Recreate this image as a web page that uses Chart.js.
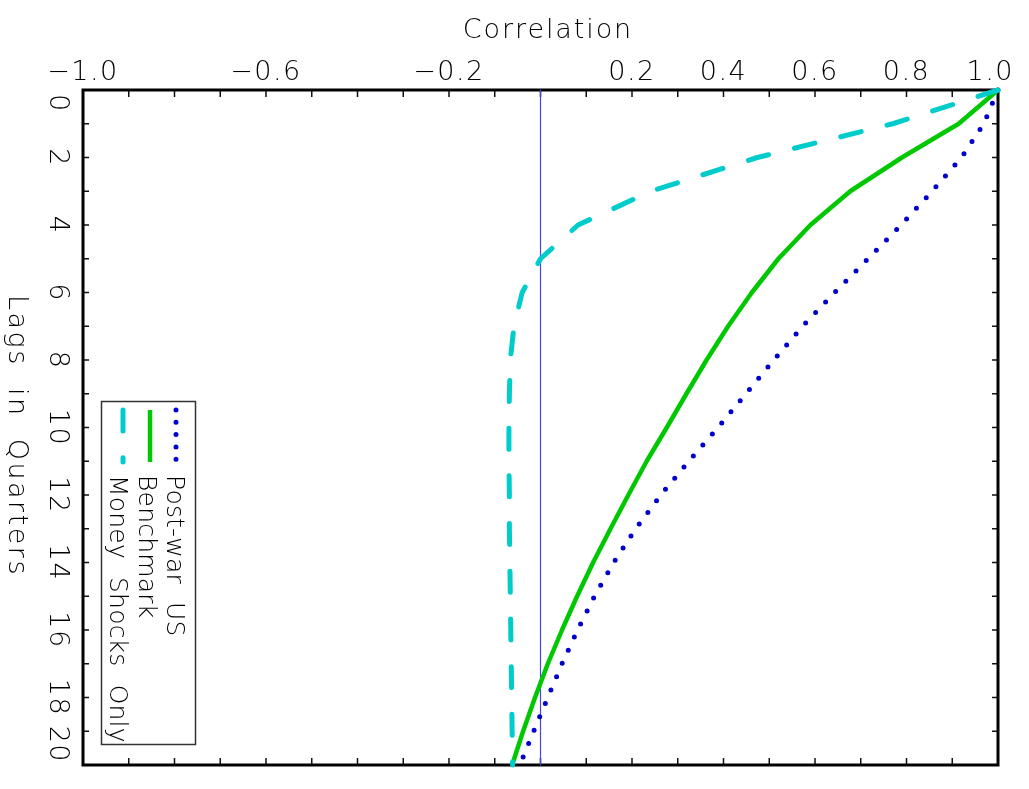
<!DOCTYPE html>
<html><head><meta charset="utf-8">
<script src="https://cdn.jsdelivr.net/npm/chart.js@4/dist/chart.umd.min.js"></script>
<style>html,body{margin:0;padding:0;background:#fff}#wrap{width:1029px;height:789px;position:relative}</style>
</head><body><div id="wrap"><canvas id="c"></canvas></div>
<script>
// ---- data ----
const lags = [0,1,2,3,4,5,6,7,8,9,10,11,12,13,14,15,16,17,18,19,20];
const postWarUS = [1.0,0.969,0.92,0.856,0.788,0.716,0.643,0.573,0.510,0.449,0.388,0.324,0.263,0.208,0.160,0.118,0.081,0.047,0.016,-0.015,-0.045];
const benchmark = [1.0,0.914,0.79,0.677,0.59,0.52,0.462,0.41,0.363,0.319,0.276,0.232,0.192,0.153,0.115,0.080,0.047,0.016,-0.012,-0.038,-0.062];
const moneyShocksOnly = [1.0,0.77,0.474,0.241,0.082,0.0,-0.04,-0.058,-0.066,-0.068,-0.069,-0.069,-0.068,-0.068,-0.067,-0.066,-0.065,-0.064,-0.063,-0.062,-0.061];
const zeroLineX = 0;
const corrTickValues = [-1.0,-0.6,-0.2,0.2,0.4,0.6,0.8,1.0];
const corrTickLabels = ['\u22121.0','\u22120.6','\u22120.2','0.2','0.4','0.6','0.8','1.0'];
const lagTickValues = [0,2,4,6,8,10,12,14,16,18,20];
const lagTickLabels = ['0','2','4','6','8','10','12','14','16','18','20'];
const seriesNames = ['Post-war US','Benchmark','Money Shocks Only'];
const xTitle = 'Correlation';
const yTitle = 'Lags in Quarters';

const toXY = vals => vals.map((v,i)=>({x:v, y:lags[i]}));
const FONT = '"DejaVu Sans", "Liberation Sans", sans-serif';
const TXT = '#000';

const styles = {
  post:  {borderColor:'#0000cd', borderWidth:5, borderDash:[0,14.5], borderCapStyle:'round'},
  bench: {borderColor:'#00c800', borderWidth:4.5, borderDash:[], borderCapStyle:'butt'},
  money: {borderColor:'#00cccc', borderWidth:5, borderDash:[21,26.7], borderCapStyle:'round'}
};

const datasets = [
  Object.assign({label:seriesNames[2], data:toXY(moneyShocksOnly)}, styles.money),
  Object.assign({label:seriesNames[1], data:toXY(benchmark)}, styles.bench),
  Object.assign({label:seriesNames[0], data:toXY(postWarUS)}, styles.post),
  {label:'zero', data:[{x:zeroLineX,y:lags[0]},{x:zeroLineX,y:lags[lags.length-1]}], borderColor:'rgb(70,70,225)', borderWidth:1.2}
].map(d=>Object.assign({showLine:true, pointRadius:0, fill:false, tension:0, borderJoinStyle:'round', clip:8}, d));

function spaced(ctx, px){ try{ ctx.letterSpacing = px + 'px'; }catch(e){} }
function wspaced(ctx, px){ try{ ctx.wordSpacing = px + 'px'; }catch(e){} }

const axesPlugin = {
  id:'axesPlugin',
  beforeDatasetsDraw(chart){
    const ctx = chart.ctx, a = chart.chartArea, xs = chart.scales.x, ys = chart.scales.y;
    ctx.save();
    ctx.strokeStyle = '#111'; ctx.lineWidth = 1.5;
    ctx.beginPath();
    for (let k = -9; k <= 9; k++) {
      const px = xs.getPixelForValue(k/10);
      ctx.moveTo(px, a.top); ctx.lineTo(px, a.top + 7);
      ctx.moveTo(px, a.bottom); ctx.lineTo(px, a.bottom - 7);
    }
    for (let l = 1; l < 20; l++) {
      const py = ys.getPixelForValue(l);
      ctx.moveTo(a.left, py); ctx.lineTo(a.left + 6, py);
      ctx.moveTo(a.right, py); ctx.lineTo(a.right - 6, py);
    }
    ctx.stroke();
    ctx.lineWidth = 3; ctx.strokeStyle = '#000';
    ctx.strokeRect(a.left, a.top, a.right - a.left, a.bottom - a.top);
    ctx.restore();
  },
  afterDraw(chart){
    const ctx = chart.ctx, a = chart.chartArea, xs = chart.scales.x, ys = chart.scales.y;
    ctx.save();
    ctx.fillStyle = TXT;
    // top tick labels
    ctx.font = '200 27px ' + FONT;
    spaced(ctx, 1.5);
    ctx.textAlign = 'center'; ctx.textBaseline = 'alphabetic';
    corrTickValues.forEach((v,i)=>{
      const lab = corrTickLabels[i];
      const w = ctx.measureText(lab).width;
      let cx = xs.getPixelForValue(v);
      cx = Math.min(cx, 1014 - w/2);
      ctx.fillText(lab, cx, 80);
    });
    // x title
    spaced(ctx, 1.9);
    ctx.fillText(xTitle, 548, 38);
    // y tick labels (rotated clockwise)
    spaced(ctx, 1.5);
    lagTickValues.forEach((v,i)=>{
      const lab = lagTickLabels[i];
      const w = ctx.measureText(lab).width;
      let cy = ys.getPixelForValue(v);
      cy = Math.max(a.top + w/2 + 4, Math.min(a.bottom - w/2 - 2, cy));
      ctx.save(); ctx.translate(50, cy); ctx.rotate(Math.PI/2);
      ctx.textAlign = 'center'; ctx.fillText(lab, 0, 0); ctx.restore();
    });
    // y title
    spaced(ctx, 2.5);
    wspaced(ctx, 10);
    ctx.save(); ctx.translate(9, 436); ctx.rotate(Math.PI/2);
    ctx.textAlign = 'center'; ctx.fillText(yTitle, 0, 0); ctx.restore();
    wspaced(ctx, 0);
    // legend box
    ctx.strokeStyle = '#333'; ctx.lineWidth = 1.5;
    ctx.strokeRect(101.5, 401.5, 94, 343);
    const entries = [
      {name:seriesNames[0], st:styles.post, lx:176, tx:167, dash:[0,12.3]},
      {name:seriesNames[1], st:styles.bench, lx:150, tx:139, dash:[]},
      {name:seriesNames[2], st:styles.money, lx:123, tx:110, dash:styles.money.borderDash}
    ];
    entries.forEach(e=>{
      ctx.save();
      ctx.strokeStyle = e.st.borderColor; ctx.lineWidth = e.st.borderWidth;
      ctx.lineCap = e.st.borderCapStyle; ctx.setLineDash(e.dash);
      ctx.beginPath(); ctx.moveTo(e.lx, 410); ctx.lineTo(e.lx, 462); ctx.stroke();
      ctx.restore();
      ctx.save(); ctx.font = '200 25px ' + FONT; spaced(ctx, 0.2); wspaced(ctx, 10); ctx.fillStyle = TXT;
      ctx.translate(e.tx, 475); ctx.rotate(Math.PI/2);
      ctx.textAlign = 'left'; ctx.textBaseline = 'alphabetic';
      ctx.fillText(e.name, 0, 0); ctx.restore();
    });
    ctx.restore();
  }
};

new Chart(document.getElementById('c'), {
  type:'scatter',
  data:{datasets},
  options:{
    responsive:true, maintainAspectRatio:false, animation:false,
    layout:{padding:{left:83, top:90, right:31, bottom:24}},
    plugins:{legend:{display:false}, tooltip:{enabled:false}, title:{display:false}},
    scales:{
      x:{type:'linear', min:-1, max:1, display:false},
      y:{type:'linear', min:0, max:20, reverse:true, display:false}
    }
  },
  plugins:[axesPlugin]
});
</script></body></html>
